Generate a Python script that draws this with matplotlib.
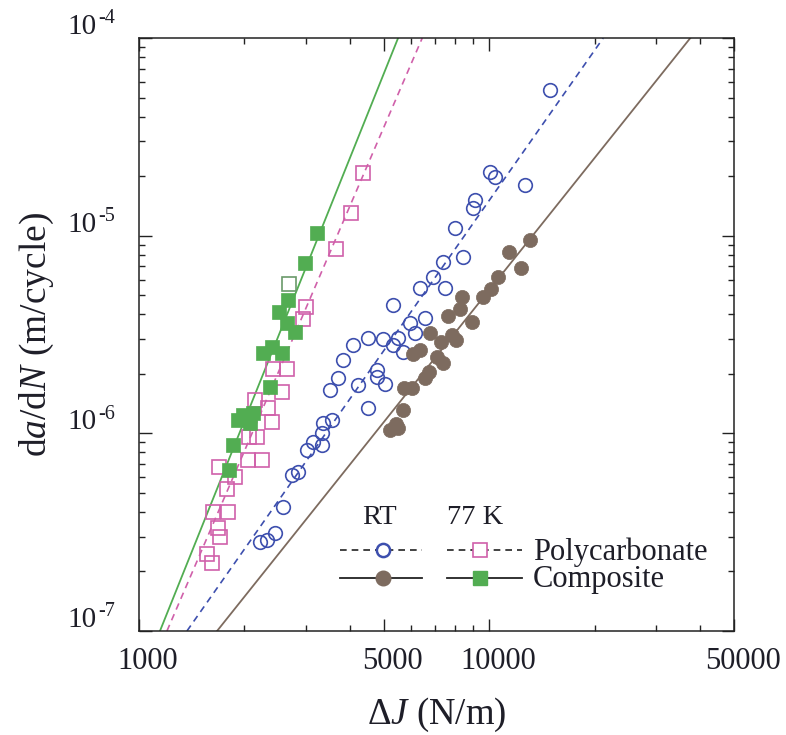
import matplotlib
matplotlib.use("Agg")
import matplotlib.pyplot as plt
import matplotlib.transforms as mtransforms
from matplotlib.ticker import FixedLocator, LogLocator, NullFormatter
from matplotlib.lines import Line2D

plt.rcParams['font.family'] = ['Liberation Serif', 'DejaVu Serif']
plt.rcParams['mathtext.fontset'] = 'custom'
plt.rcParams['mathtext.rm'] = 'Liberation Serif'
plt.rcParams['mathtext.it'] = 'Liberation Serif:italic'

# ---------------- data ----------------
# Polycarbonate, RT (open circles)
pc_rt_x = [14900, 10070, 10400, 12670, 9120, 9000, 7990, 8430, 7390, 6920, 7490, 6350,
           5320, 6560, 5950, 6150, 4510, 4980, 5500, 5320, 4090, 5680, 3830, 4790,
           3700, 4790, 5050, 4230, 3510, 4510, 3560, 3360, 3330, 3140, 3330, 3020,
           2850, 2740, 2580, 2450, 2320, 2220]
pc_rt_y = [5.46e-5, 2.10e-5, 1.98e-5, 1.80e-5, 1.52e-5, 1.38e-5, 1.09e-5, 7.80e-6, 7.36e-6,
           6.18e-6, 5.44e-6, 5.44e-6, 4.46e-6, 3.83e-6, 3.62e-6, 3.22e-6, 3.04e-6, 3.00e-6,
           3.04e-6, 2.80e-6, 2.80e-6, 2.58e-6, 2.35e-6, 2.09e-6, 1.91e-6, 1.93e-6, 1.78e-6,
           1.76e-6, 1.66e-6, 1.34e-6, 1.17e-6, 1.13e-6, 1.00e-6, 9.05e-7, 8.74e-7, 8.24e-7,
           6.38e-7, 6.16e-7, 4.24e-7, 3.13e-7, 2.89e-7, 2.82e-7]

# Polycarbonate, 77 K (open squares)
pc_77_x = [4370, 4030, 3660, 3000, 2940, 2410, 2650, 2560, 2150, 2340, 2400, 2060,
           2170, 2050, 2250, 1690, 1880, 1780, 1630, 1800, 1680, 1700, 1560, 1620]
pc_77_y = [2.08e-5, 1.30e-5, 8.56e-6, 4.36e-6, 3.79e-6, 2.12e-6, 2.12e-6, 1.62e-6,
           1.48e-6, 1.34e-6, 1.14e-6, 9.59e-7, 9.59e-7, 7.34e-7, 7.34e-7, 6.76e-7,
           6.02e-7, 5.23e-7, 4.00e-7, 4.00e-7, 3.32e-7, 2.99e-7, 2.45e-7, 2.21e-7]

# Composite, RT (filled circles)
comp_rt_x = [13100, 11400, 12300, 10600, 10100, 9610, 8370, 8260, 7640, 8940, 6780, 7840,
             8050, 7290, 6350, 6070, 7100, 7390, 6740, 6560, 6030, 5720, 5680, 5420, 5500, 5210]
comp_rt_y = [9.51e-6, 8.27e-6, 6.86e-6, 6.18e-6, 5.38e-6, 4.90e-6, 4.90e-6, 4.26e-6, 3.92e-6,
             3.66e-6, 3.22e-6, 3.15e-6, 2.97e-6, 2.90e-6, 2.64e-6, 2.52e-6, 2.43e-6, 2.27e-6,
             2.04e-6, 1.91e-6, 1.70e-6, 1.70e-6, 1.31e-6, 1.12e-6, 1.07e-6, 1.04e-6]

# Composite, 77 K (filled squares)
comp_77_x = [3230, 2980, 2670, 2510, 2650, 2790, 2400, 2260, 2560, 2370, 1980, 2120,
             2080, 1920, 1860, 1810]
comp_77_y = [1.03e-5, 7.28e-6, 4.73e-6, 4.11e-6, 3.62e-6, 3.26e-6, 2.74e-6, 2.55e-6,
             2.55e-6, 1.72e-6, 1.24e-6, 1.27e-6, 1.13e-6, 1.17e-6, 8.74e-7, 6.53e-7]
comp_77_open_x = [2680]
comp_77_open_y = [5.70e-6]

# power-law fit lines (x at the two ends of the y range)
fit_y = [1e-7, 1e-4]
pc_rt_fit_x = [1371, 21170]
pc_77_fit_x = [1202, 6440]
comp_rt_fit_x = [1671, 37530]
comp_77_fit_x = [1148, 5495]

x_major = [1000, 5000, 10000, 50000]
x_major_labels = ['1000', '5000', '10000', '50000']
x_minor = [2000, 3000, 4000, 6000, 7000, 8000, 9000, 20000, 30000, 40000]
y_major = [1e-7, 1e-6, 1e-5, 1e-4]
y_major_exps = ['-7', '-6', '-5', '-4']

# ---------------- style ----------------
c_blue = '#3d4fae'
c_pink = '#d060aa'
c_brown = '#7d6b5f'
c_green = '#52ad52'
c_text = '#1e1e28'

fig = plt.figure(figsize=(7.86, 7.35), dpi=100)
ax = fig.add_axes([0.1768, 0.1415, 0.757, 0.8068])
ax.set_xscale('log')
ax.set_yscale('log')
ax.set_xlim(1000, 50000)
ax.set_ylim(1e-7, 1e-4)

dash = (0, (4, 3))
ax.plot(pc_rt_fit_x, fit_y, color=c_blue, lw=1.2, ls=dash, zorder=2)
ax.plot(pc_77_fit_x, fit_y, color=c_pink, lw=1.2, ls=dash, zorder=2)
ax.plot(comp_rt_fit_x, fit_y, color=c_brown, lw=1.3, zorder=2)
ax.plot(comp_77_fit_x, fit_y, color=c_green, lw=1.3, zorder=2)

ax.plot(pc_rt_x, pc_rt_y, ls='none', marker='o', ms=9.8, mfc='none', mec=c_blue, mew=1.2, zorder=3)
ax.plot(pc_77_x, pc_77_y, ls='none', marker='s', ms=9.5, mfc='none', mec=c_pink, mew=1.2, zorder=3)
ax.plot(comp_rt_x, comp_rt_y, ls='none', marker='o', ms=10.2, mfc=c_brown, mec=c_brown, mew=0.5, zorder=4)
ax.plot(comp_77_x, comp_77_y, ls='none', marker='s', ms=10, mfc=c_green, mec=c_green, mew=0.5, zorder=4)
ax.plot(comp_77_open_x, comp_77_open_y, ls='none', marker='s', ms=9.5, mfc='none', mec='#6a9a6a', mew=1.2, zorder=3)

# ---------------- axes / ticks ----------------
ax.xaxis.set_major_locator(FixedLocator(x_major))
ax.xaxis.set_minor_locator(FixedLocator(x_minor))
ax.yaxis.set_major_locator(FixedLocator(y_major))
ax.yaxis.set_minor_locator(LogLocator(base=10, subs=range(2, 10)))
for axis in (ax.xaxis, ax.yaxis):
    axis.set_major_formatter(NullFormatter())
    axis.set_minor_formatter(NullFormatter())
ax.tick_params(which='both', direction='in', top=True, right=True, width=1.0, color='#222222')
ax.tick_params(which='major', length=9)
ax.tick_params(which='minor', length=4.5)
for s in ax.spines.values():
    s.set_linewidth(1.1)
    s.set_color('#222222')

xoff = mtransforms.ScaledTranslation(0.09, 0, fig.dpi_scale_trans)
for v, lab in zip(x_major, x_major_labels):
    ax.text(v, -0.027, lab, transform=ax.get_xaxis_transform() + xoff,
            ha='center', va='top', fontsize=22, color=c_text)

# y tick labels: "10" plus a raised exponent written with a plain hyphen
base_off = mtransforms.ScaledTranslation(0, 0.04, fig.dpi_scale_trans)
exp_off = mtransforms.ScaledTranslation(0, 0.145, fig.dpi_scale_trans)
for v, e in zip(y_major, y_major_exps):
    ax.text(-0.0706, v, '10', transform=ax.get_yaxis_transform() + base_off,
            ha='right', va='baseline', fontsize=21, color=c_text)
    ax.text(-0.069, v, e, transform=ax.get_yaxis_transform() + exp_off,
            ha='left', va='baseline', fontsize=14.5, color=c_text)

ax.set_xlabel(r'Δ$\mathit{J}$ (N/m)', fontsize=26.5, color=c_text)
ax.xaxis.set_label_coords(0.5, -0.11)
ax.set_ylabel(r'd$\mathit{a}$/d$\mathit{N}$ (m/cycle)', fontsize=27, color=c_text)
ax.yaxis.set_label_coords(-0.14, 0.5)

# ---------------- legend (custom grid) ----------------
T = ax.transAxes
kdark = '#222222'
ax.text(0.405, 0.192, 'RT', transform=T, ha='center', va='center', fontsize=20.5, color=c_text)
ax.text(0.565, 0.192, '77 K', transform=T, ha='center', va='center', fontsize=20.5, color=c_text)
ax.add_line(Line2D([0.338, 0.476], [0.137, 0.137], transform=T, color=kdark, lw=1.2, ls=dash))
ax.add_line(Line2D([0.410], [0.137], transform=T, ls='none', marker='o', ms=9.5, mfc='white', mec=c_blue, mew=1.8))
ax.add_line(Line2D([0.518, 0.644], [0.137, 0.137], transform=T, color=kdark, lw=1.2, ls=dash))
ax.add_line(Line2D([0.573], [0.137], transform=T, ls='none', marker='s', ms=9.5, mfc='white', mec=c_pink, mew=1.2))
ax.add_line(Line2D([0.338, 0.476], [0.089, 0.089], transform=T, color=kdark, lw=1.3))
ax.add_line(Line2D([0.410], [0.089], transform=T, ls='none', marker='o', ms=10.5, mfc=c_brown, mec=c_brown))
ax.add_line(Line2D([0.518, 0.644], [0.089, 0.089], transform=T, color=kdark, lw=1.3))
ax.add_line(Line2D([0.573], [0.089], transform=T, ls='none', marker='s', ms=10, mfc=c_green, mec=c_green))
ax.text(0.662, 0.133, 'Polycarbonate', transform=T, ha='left', va='center', fontsize=22, color=c_text)
ax.text(0.662, 0.086, 'Composite', transform=T, ha='left', va='center', fontsize=22, color=c_text)

fig.savefig('out.png', dpi=100)
